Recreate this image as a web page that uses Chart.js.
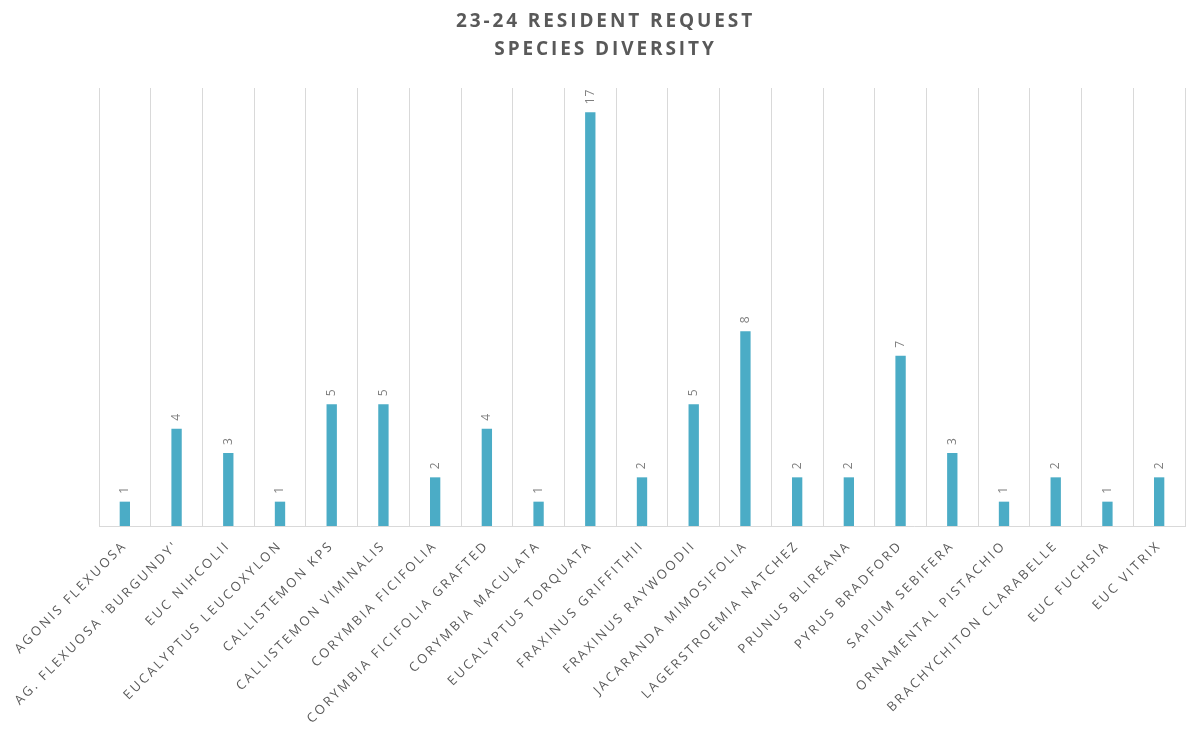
<!DOCTYPE html>
<html>
<head>
<meta charset="utf-8">
<script src="https://cdn.jsdelivr.net/npm/chart.js@4/dist/chart.umd.min.js"></script>
<style>
  html, body { margin: 0; padding: 0; background: #fff; }
  #wrap { position: relative; width: 1187px; height: 729px; }
  #title {
    position: absolute; left: 12px; top: 6px; width: 1187px;
    text-align: center; font-family: "Open Sans", sans-serif;
    font-weight: bold; font-size: 19px; line-height: 28px;
    letter-spacing: 2.9px; color: #595959;
  }
</style>
</head>
<body>
<div id="wrap">
  <canvas id="chart" width="1187" height="729"></canvas>
  <div id="title">23-24 RESIDENT REQUEST<br>SPECIES DIVERSITY</div>
</div>
<script>
// species requested
const species = [
    'AGONIS FLEXUOSA', "AG. FLEXUOSA 'BURGUNDY'", 'EUC NIHCOLII', 'EUCALYPTUS LEUCOXYLON',
    'CALLISTEMON KPS', 'CALLISTEMON VIMINALIS', 'CORYMBIA FICIFOLIA', 'CORYMBIA FICIFOLIA GRAFTED',
    'CORYMBIA MACULATA', 'EUCALYPTUS TORQUATA', 'FRAXINUS GRIFFITHII', 'FRAXINUS RAYWOODII',
    'JACARANDA MIMOSIFOLIA', 'LAGERSTROEMIA NATCHEZ', 'PRUNUS BLIREANA', 'PYRUS BRADFORD',
    'SAPIUM SEBIFERA', 'ORNAMENTAL PISTACHIO', 'BRACHYCHITON CLARABELLE', 'EUC FUCHSIA', 'EUC VITRIX'
];
const requests = [1, 4, 3, 1, 5, 5, 2, 4, 1, 17, 2, 5, 8, 2, 2, 7, 3, 1, 2, 1, 2];

const barColor = '#4bacc6';
const gridColor = '#d9d9d9';

// canvas letter spacing gets reset with the canvas, so set it before layout and draw
const spacingPlugin = {
    id: 'spacing',
    beforeLayout(chart) { chart.ctx.letterSpacing = '2.5px'; },
    beforeDraw(chart) { chart.ctx.letterSpacing = '2.5px'; }
};

// value labels above the bars, turned on their side
const valueLabels = {
    id: 'valueLabels',
    afterDatasetsDraw(chart) {
        const ctx = chart.ctx;
        const meta = chart.getDatasetMeta(0);
        ctx.save();
        ctx.font = '12px "Open Sans", sans-serif';
        ctx.letterSpacing = '1px';
        ctx.fillStyle = '#7f7f7f';
        ctx.textAlign = 'left';
        ctx.textBaseline = 'middle';
        meta.data.forEach((bar, i) => {
            ctx.save();
            ctx.translate(bar.x, bar.y - 8);
            ctx.rotate(-Math.PI / 2);
            ctx.fillText(String(requests[i]), 0, 0);
            ctx.restore();
        });
        ctx.restore();
    }
};

const ctx = document.getElementById('chart').getContext('2d');
new Chart(ctx, {
    type: 'bar',
    data: {
        labels: species,
        datasets: [{
            data: requests,
            backgroundColor: barColor,
            barPercentage: 0.2,
            categoryPercentage: 1
        }]
    },
    options: {
        responsive: false,
        animation: false,
        layout: { padding: { top: 88, left: 99, right: 2, bottom: 0 } },
        plugins: {
            legend: { display: false },
            title: { display: false },
            tooltip: { enabled: false }
        },
        scales: {
            x: {
                grid: { color: gridColor, drawTicks: false, offset: true },
                border: { color: gridColor },
                ticks: {
                    color: '#595959',
                    font: { family: '"Open Sans", sans-serif', size: 13 },
                    minRotation: 45,
                    maxRotation: 45,
                    autoSkip: false,
                    padding: 12
                },
                afterFit(scale) {
                    scale.height = 203;
                    scale.paddingLeft = 0;
                    scale.paddingRight = 0;
                }
            },
            y: {
                display: false,
                min: 0,
                max: 18
            }
        }
    },
    plugins: [spacingPlugin, valueLabels]
});
</script>
</body>
</html>
